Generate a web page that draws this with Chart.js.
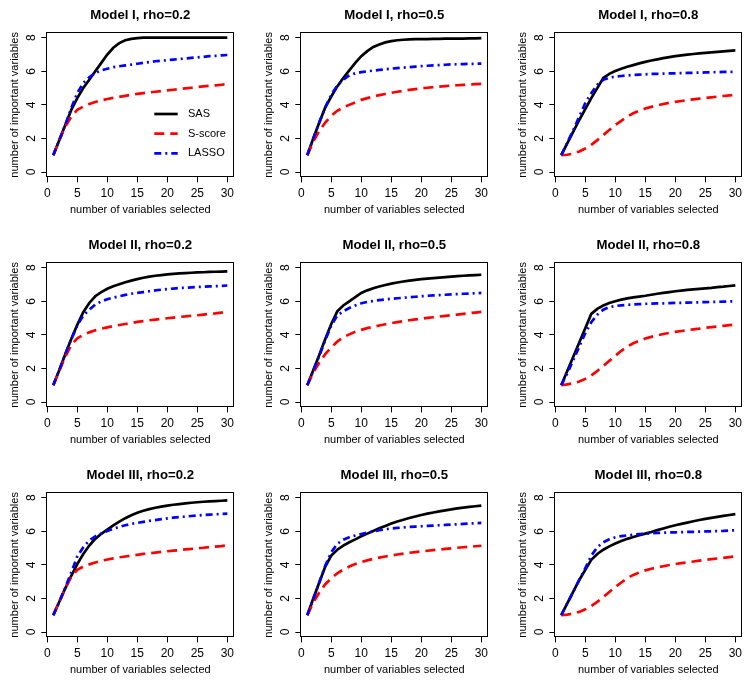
<!DOCTYPE html>
<html>
<head>
<meta charset="utf-8">
<script src="https://cdn.jsdelivr.net/npm/chart.js@4.4.1/dist/chart.umd.min.js"></script>
<style>
  body { margin: 0; background: #fff; overflow: hidden; }
  #wrap { position: relative; width: 752px; height: 683px; overflow: hidden; }
  #wrap canvas { position: absolute; }
</style>
</head>
<body>
<div id="wrap"></div>
<script>
// x positions (number of variables selected)
var xVals = [1, 2, 3, 4, 5, 6, 7, 8, 9, 10, 11, 12, 13, 14, 15, 16, 17, 18, 19, 20, 21, 22, 23, 24, 25, 26, 27, 28, 29, 30];
var xTicks = [0, 5, 10, 15, 20, 25, 30];
var yTicks = [0, 2, 4, 6, 8];
var seriesNames = ["SAS", "S-score", "LASSO"];
var titles = ["Model I, rho=0.2", "Model I, rho=0.5", "Model I, rho=0.8",
              "Model II, rho=0.2", "Model II, rho=0.5", "Model II, rho=0.8",
              "Model III, rho=0.2", "Model III, rho=0.5", "Model III, rho=0.8"];

// Model I
var sasI2 = [1, 1.9, 2.8, 3.7, 4.4, 5.0, 5.5, 6.0, 6.5, 7.0, 7.4, 7.68, 7.85, 7.93, 7.97, 8, 8, 8, 8, 8, 8, 8, 8, 8, 8, 8, 8, 8, 8, 8];
var sscI2 = [1, 1.9, 2.7, 3.3, 3.7, 3.9, 4.05, 4.17, 4.27, 4.35, 4.42, 4.48, 4.54, 4.6, 4.65, 4.7, 4.74, 4.78, 4.82, 4.86, 4.9, 4.94, 4.98, 5.02, 5.06, 5.1, 5.13, 5.16, 5.2, 5.23];
var lasI2 = [1, 1.9, 2.8, 3.8, 4.7, 5.3, 5.65, 5.9, 6.05, 6.15, 6.25, 6.3, 6.35, 6.4, 6.45, 6.5, 6.55, 6.6, 6.63, 6.66, 6.7, 6.73, 6.76, 6.8, 6.83, 6.86, 6.9, 6.92, 6.95, 6.97];

var sasI5 = [1, 2.0, 2.95, 3.85, 4.5, 5.1, 5.6, 6.05, 6.5, 6.9, 7.2, 7.45, 7.6, 7.72, 7.8, 7.85, 7.88, 7.9, 7.91, 7.92, 7.92, 7.93, 7.93, 7.94, 7.94, 7.95, 7.95, 7.96, 7.96, 7.97];
var sscI5 = [1, 1.8, 2.45, 2.95, 3.35, 3.65, 3.85, 4.0, 4.15, 4.3, 4.4, 4.5, 4.58, 4.65, 4.72, 4.78, 4.84, 4.89, 4.94, 4.98, 5.02, 5.06, 5.09, 5.12, 5.15, 5.17, 5.19, 5.21, 5.23, 5.25];
var lasI5 = [1, 2.0, 2.95, 3.85, 4.6, 5.15, 5.5, 5.75, 5.88, 5.95, 6.0, 6.04, 6.08, 6.12, 6.16, 6.19, 6.22, 6.25, 6.28, 6.31, 6.33, 6.35, 6.37, 6.39, 6.41, 6.42, 6.43, 6.44, 6.45, 6.46];

var sasI8 = [1, 1.7, 2.4, 3.1, 3.75, 4.4, 5.0, 5.6, 5.85, 6.02, 6.15, 6.27, 6.37, 6.47, 6.56, 6.64, 6.71, 6.78, 6.84, 6.9, 6.95, 6.99, 7.03, 7.07, 7.1, 7.13, 7.16, 7.19, 7.22, 7.25];
var sscI8 = [1, 1.03, 1.1, 1.22, 1.4, 1.62, 1.9, 2.2, 2.5, 2.8, 3.05, 3.3, 3.5, 3.65, 3.78, 3.88, 3.97, 4.05, 4.12, 4.18, 4.23, 4.28, 4.33, 4.37, 4.41, 4.45, 4.49, 4.53, 4.56, 4.6];
var lasI8 = [1, 1.75, 2.5, 3.3, 4.1, 4.7, 5.2, 5.5, 5.62, 5.68, 5.72, 5.75, 5.78, 5.8, 5.82, 5.84, 5.85, 5.86, 5.87, 5.88, 5.89, 5.9, 5.91, 5.92, 5.93, 5.94, 5.95, 5.96, 5.96, 5.97];

// Model II
var sasII2 = [1, 1.9, 2.85, 3.75, 4.6, 5.35, 5.9, 6.3, 6.55, 6.75, 6.9, 7.02, 7.13, 7.23, 7.32, 7.4, 7.47, 7.52, 7.56, 7.6, 7.63, 7.66, 7.68, 7.7, 7.72, 7.73, 7.75, 7.76, 7.77, 7.78];
var sscII2 = [1, 1.85, 2.7, 3.4, 3.8, 4.0, 4.15, 4.27, 4.37, 4.45, 4.52, 4.59, 4.65, 4.71, 4.77, 4.82, 4.87, 4.91, 4.95, 4.99, 5.03, 5.07, 5.1, 5.14, 5.17, 5.21, 5.25, 5.28, 5.32, 5.36];
var lasII2 = [1, 1.9, 2.85, 3.75, 4.55, 5.15, 5.5, 5.8, 6.0, 6.12, 6.22, 6.3, 6.38, 6.45, 6.5, 6.55, 6.6, 6.65, 6.69, 6.73, 6.76, 6.79, 6.81, 6.83, 6.85, 6.87, 6.89, 6.9, 6.92, 6.94];

var sasII5 = [1, 1.9, 2.8, 3.75, 4.65, 5.4, 5.75, 6.0, 6.25, 6.5, 6.65, 6.78, 6.88, 6.97, 7.05, 7.12, 7.18, 7.23, 7.28, 7.32, 7.35, 7.38, 7.41, 7.44, 7.47, 7.5, 7.52, 7.54, 7.56, 7.58];
var sscII5 = [1, 1.75, 2.35, 2.85, 3.25, 3.6, 3.85, 4.03, 4.18, 4.3, 4.4, 4.48, 4.56, 4.63, 4.7, 4.76, 4.82, 4.87, 4.92, 4.97, 5.01, 5.05, 5.09, 5.13, 5.17, 5.21, 5.25, 5.29, 5.33, 5.37];
var lasII5 = [1, 1.85, 2.75, 3.7, 4.55, 5.15, 5.4, 5.6, 5.75, 5.88, 5.96, 6.02, 6.07, 6.11, 6.15, 6.18, 6.21, 6.24, 6.27, 6.3, 6.33, 6.35, 6.37, 6.39, 6.41, 6.43, 6.45, 6.46, 6.48, 6.5];

var sasII8 = [1, 1.85, 2.7, 3.55, 4.4, 5.25, 5.55, 5.75, 5.9, 6.0, 6.1, 6.17, 6.23, 6.28, 6.33, 6.39, 6.45, 6.5, 6.55, 6.6, 6.64, 6.68, 6.71, 6.74, 6.77, 6.8, 6.84, 6.87, 6.91, 6.95];
var sscII8 = [1, 1.05, 1.12, 1.22, 1.38, 1.58, 1.85, 2.15, 2.45, 2.75, 3.05, 3.3, 3.5, 3.65, 3.78, 3.88, 3.97, 4.05, 4.12, 4.18, 4.23, 4.28, 4.33, 4.37, 4.42, 4.46, 4.5, 4.54, 4.58, 4.62];
var lasII8 = [1, 1.7, 2.5, 3.3, 4.1, 4.75, 5.2, 5.5, 5.65, 5.72, 5.76, 5.79, 5.81, 5.83, 5.85, 5.86, 5.87, 5.88, 5.89, 5.9, 5.91, 5.92, 5.93, 5.94, 5.95, 5.96, 5.97, 5.98, 5.99, 6.0];

// Model III
var sasIII2 = [1, 1.8, 2.6, 3.35, 4.05, 4.65, 5.15, 5.55, 5.85, 6.1, 6.35, 6.58, 6.78, 6.95, 7.1, 7.22, 7.32, 7.4, 7.47, 7.53, 7.58, 7.62, 7.66, 7.7, 7.73, 7.76, 7.78, 7.8, 7.82, 7.84];
var sscIII2 = [1, 1.8, 2.6, 3.3, 3.7, 3.9, 4.03, 4.14, 4.24, 4.32, 4.39, 4.45, 4.5, 4.55, 4.6, 4.65, 4.69, 4.73, 4.77, 4.81, 4.85, 4.88, 4.92, 4.95, 4.99, 5.02, 5.06, 5.09, 5.12, 5.16];
var lasIII2 = [1, 1.8, 2.65, 3.55, 4.5, 5.05, 5.45, 5.7, 5.87, 6.02, 6.15, 6.26, 6.36, 6.44, 6.5, 6.56, 6.62, 6.67, 6.72, 6.77, 6.81, 6.85, 6.88, 6.91, 6.94, 6.97, 6.99, 7.01, 7.03, 7.05];

var sasIII5 = [1, 2.0, 2.95, 3.9, 4.55, 4.9, 5.15, 5.35, 5.52, 5.7, 5.86, 6.02, 6.18, 6.32, 6.46, 6.58, 6.69, 6.79, 6.88, 6.97, 7.05, 7.12, 7.19, 7.25, 7.31, 7.36, 7.41, 7.45, 7.49, 7.53];
var sscIII5 = [1, 1.75, 2.35, 2.85, 3.2, 3.5, 3.72, 3.9, 4.05, 4.17, 4.27, 4.36, 4.43, 4.5, 4.56, 4.62, 4.67, 4.72, 4.76, 4.8, 4.84, 4.88, 4.91, 4.95, 4.98, 5.02, 5.05, 5.08, 5.11, 5.14];
var lasIII5 = [1, 1.95, 2.95, 3.95, 4.75, 5.25, 5.5, 5.65, 5.75, 5.84, 5.92, 6.0, 6.06, 6.12, 6.17, 6.2, 6.23, 6.26, 6.28, 6.3, 6.32, 6.34, 6.36, 6.38, 6.4, 6.42, 6.44, 6.46, 6.48, 6.5];

var sasIII8 = [1, 1.7, 2.4, 3.1, 3.7, 4.3, 4.65, 4.9, 5.1, 5.27, 5.42, 5.55, 5.66, 5.76, 5.86, 5.96, 6.07, 6.17, 6.27, 6.36, 6.44, 6.52, 6.6, 6.67, 6.74, 6.8, 6.86, 6.92, 6.97, 7.02];
var sscIII8 = [1, 1.04, 1.1, 1.2, 1.35, 1.55, 1.8, 2.08, 2.38, 2.68, 2.95, 3.2, 3.4, 3.55, 3.67, 3.77, 3.85, 3.92, 3.99, 4.05, 4.1, 4.15, 4.2, 4.25, 4.3, 4.34, 4.38, 4.42, 4.46, 4.5];
var lasIII8 = [1, 1.7, 2.4, 3.1, 3.8, 4.55, 5.05, 5.35, 5.52, 5.64, 5.71, 5.76, 5.8, 5.83, 5.86, 5.88, 5.9, 5.92, 5.93, 5.94, 5.95, 5.96, 5.97, 5.98, 5.99, 6.0, 6.01, 6.02, 6.04, 6.06];

var sasList = [sasI2, sasI5, sasI8, sasII2, sasII5, sasII8, sasIII2, sasIII5, sasIII8];
var sscList = [sscI2, sscI5, sscI8, sscII2, sscII5, sscII8, sscIII2, sscIII5, sscIII8];
var lasList = [lasI2, lasI5, lasI8, lasII2, lasII5, lasII8, lasIII2, lasIII5, lasIII8];

var FONT = '"Liberation Sans", Arial, Helvetica, sans-serif';
var colors = ['#000000', '#ff0000', '#0000ff'];
var dashes = [[], [10, 6], [7, 4, 2, 4]];
var LW = 2.7;

Chart.defaults.font.family = FONT;
Chart.defaults.color = '#000';

function toPoints(arr) {
  var pts = [];
  for (var i = 0; i < xVals.length; i++) pts.push({x: xVals[i], y: arr[i]});
  return pts;
}

// full box round the plot region, like R's bty="o"
var boxPlugin = {
  id: 'box',
  afterDraw: function(chart) {
    var a = chart.chartArea, ctx = chart.ctx;
    ctx.save();
    ctx.strokeStyle = '#000';
    ctx.lineWidth = 1;
    var l = Math.round(a.left) + 0.5, t = Math.round(a.top) + 0.5;
    var r = Math.round(a.right) - 0.5, b = Math.round(a.bottom) - 0.5;
    ctx.strokeRect(l, t, r - l, b - t);
    ctx.restore();
  }
};

// legend drawn inside the first panel
var legendPlugin = {
  id: 'inLegend',
  afterDraw: function(chart) {
    if (chart.canvas.id !== 'c0') return;
    var ctx = chart.ctx;
    var ys = [114, 133.7, 153.3];
    ctx.save();
    ctx.font = '11px ' + FONT;
    ctx.textBaseline = 'middle';
    ctx.textAlign = 'left';
    for (var i = 0; i < 3; i++) {
      ctx.beginPath();
      ctx.setLineDash(dashes[i]);
      ctx.strokeStyle = colors[i];
      ctx.lineWidth = LW;
      ctx.moveTo(154.3, ys[i]);
      ctx.lineTo(177.7, ys[i]);
      ctx.stroke();
      ctx.setLineDash([]);
      ctx.fillStyle = '#000';
      ctx.fillText(seriesNames[i], 188, ys[i]);
    }
    ctx.restore();
  }
};

var lefts = [0, 254, 508];
var tops = [0, 230, 460];
var wrap = document.getElementById('wrap');

for (var p = 0; p < 9; p++) {
  var cv = document.createElement('canvas');
  cv.id = 'c' + p;
  cv.width = 250;
  cv.height = 228;
  cv.style.left = lefts[p % 3] + 'px';
  cv.style.top = tops[Math.floor(p / 3)] + 'px';
  wrap.appendChild(cv);

  var sets = [sasList[p], sscList[p], lasList[p]].map(function(arr, i) {
    return {
      label: seriesNames[i],
      data: toPoints(arr),
      borderColor: colors[i],
      borderWidth: LW,
      borderDash: dashes[i],
      pointRadius: 0,
      tension: 0,
      fill: false,
      order: 3 - i
    };
  });

  new Chart(cv, {
    type: 'line',
    data: { datasets: sets },
    options: {
      responsive: false,
      animation: false,
      devicePixelRatio: 1,
      layout: { padding: { left: 0, right: 15.7, top: 0, bottom: 5.6 } },
      plugins: {
        legend: { display: false },
        tooltip: { enabled: false },
        title: {
          display: true,
          text: titles[p],
          fullSize: false,
          color: '#000',
          font: { size: 13.2, weight: 'bold', family: FONT },
          padding: { top: 7.4, bottom: 9.1 }
        }
      },
      scales: {
        x: {
          type: 'linear',
          min: -0.16,
          max: 31.16,
          afterBuildTicks: function(scale) {
            scale.ticks = xTicks.map(function(v) { return {value: v}; });
          },
          afterFit: function(scale) { scale.height = 45; },
          grid: { drawOnChartArea: false, drawTicks: true, tickLength: 5, color: '#000', lineWidth: 1 },
          border: { display: false },
          ticks: { autoSkip: false, maxRotation: 0, padding: 3.9, color: '#000', font: { size: 12 } },
          title: { display: true, text: 'number of variables selected', color: '#000', font: { size: 11 }, padding: { top: 0, bottom: 6.3 } }
        },
        y: {
          type: 'linear',
          min: -0.32,
          max: 8.32,
          afterBuildTicks: function(scale) {
            scale.ticks = yTicks.map(function(v) { return {value: v}; });
          },
          afterFit: function(scale) { scale.width = 46.3; },
          grid: { drawOnChartArea: false, drawTicks: true, tickLength: 5, color: '#000', lineWidth: 1 },
          border: { display: false },
          ticks: { autoSkip: false, minRotation: 90, maxRotation: 90, crossAlign: 'center', padding: 6, color: '#000', font: { size: 12 } },
          title: { display: true, text: 'number of important variables', color: '#000', font: { size: 11 }, padding: { top: 8.4, bottom: 0 } }
        }
      }
    },
    plugins: [boxPlugin, legendPlugin]
  });
}
</script>
</body>
</html>
